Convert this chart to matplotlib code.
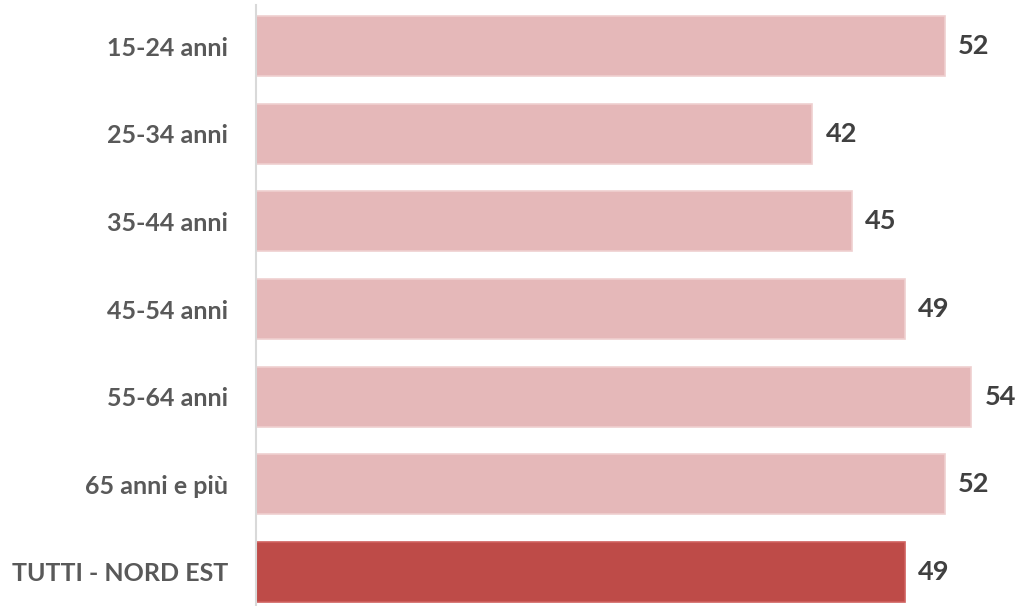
import matplotlib
matplotlib.use("Agg")
import matplotlib.pyplot as plt

categories = ["15-24 anni", "25-34 anni", "35-44 anni", "45-54 anni",
              "55-64 anni", "65 anni e più", "TUTTI - NORD EST"]
values = [52, 42, 45, 49, 54, 52, 49]

light_fill = "#E5B8B9"
light_edge = "#EFCFCF"
dark_fill = "#BE4B48"
dark_edge = "#D0605E"

plt.rcParams['font.family'] = ['Lato', 'DejaVu Sans']

fig = plt.figure(figsize=(10.19, 6.06), dpi=100)
ax = fig.add_axes([256 / 1019, 0, 1 - 256 / 1019, 601 / 606])

fills = [light_fill] * (len(values) - 1) + [dark_fill]
edges = [light_edge] * (len(values) - 1) + [dark_edge]
ypos = list(range(len(categories)))
ax.barh(ypos, values, height=0.685, color=fills, edgecolor=edges, linewidth=1.2)

# value labels just right of each bar
for y, v in zip(ypos, values):
    ax.text(v + 1.0, y, str(v), va="center", ha="left", fontsize=19.5,
            fontweight="bold", color="#404040")

ax.set_yticks(ypos)
ax.set_yticklabels(categories, fontsize=18, fontweight="bold", color="#595959")
ax.tick_params(axis="y", length=0, pad=20)
ax.set_xticks([])
ax.set_xlim(0, 57.6)
ax.set_ylim(len(categories) - 1 + 0.388, -0.468)

for side in ["top", "right", "bottom"]:
    ax.spines[side].set_visible(False)
ax.spines["left"].set_color("#D9D9D9")
ax.spines["left"].set_linewidth(1.5)

fig.savefig("out.png", dpi=100)
